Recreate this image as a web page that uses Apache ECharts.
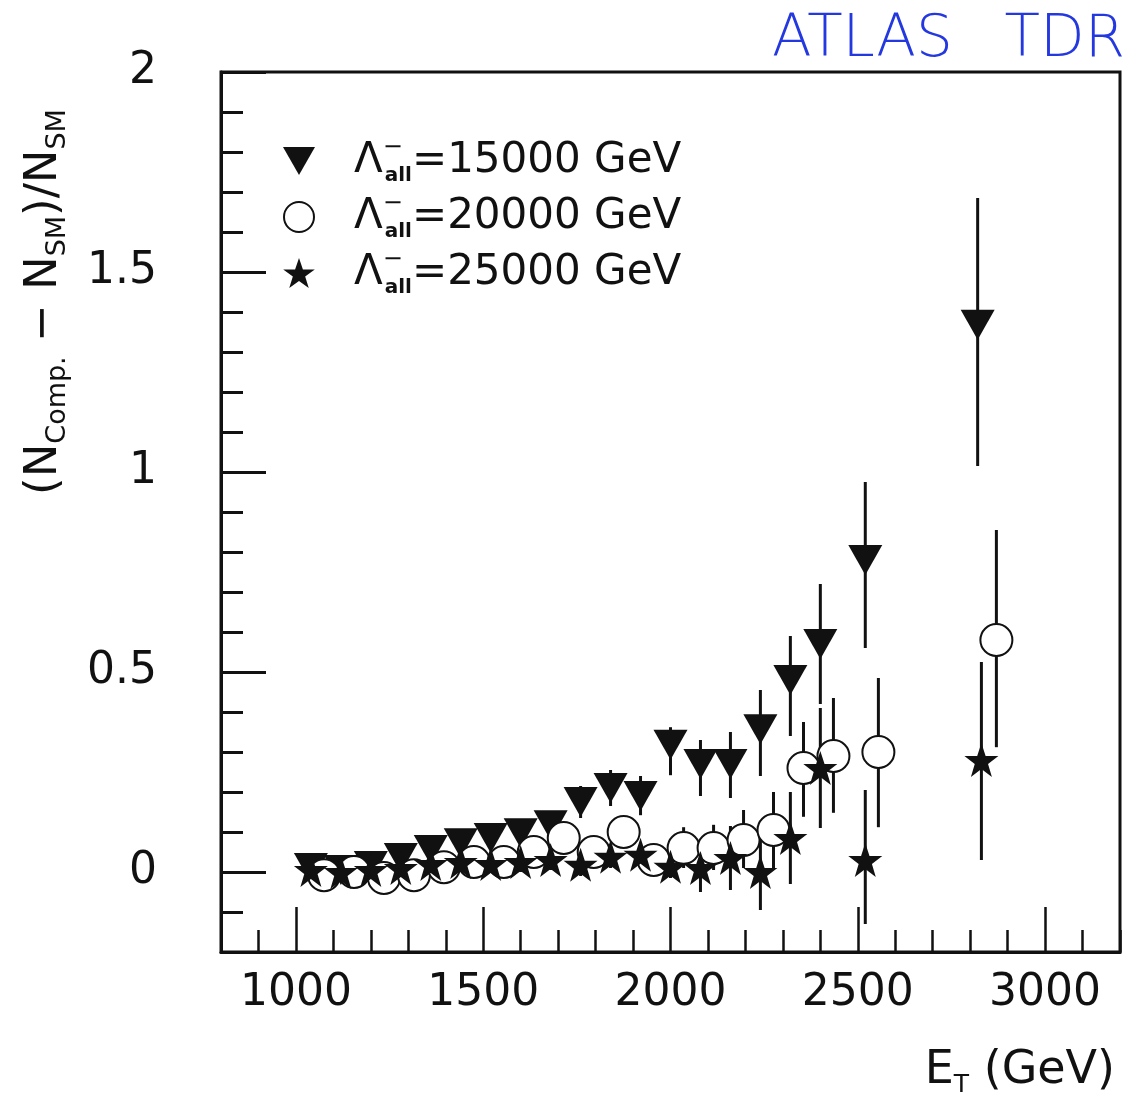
<!DOCTYPE html>
<html>
<head>
<meta charset="utf-8">
<script src="https://cdn.jsdelivr.net/npm/echarts@6/dist/echarts.min.js"></script>
<style>
html,body{margin:0;padding:0;background:#fff;}
#c{width:1129px;height:1103px;}
</style>
</head>
<body>
<div id="c"></div>
<script>
// ---- data ----
const xTickLabels = [1000, 1500, 2000, 2500, 3000];
const yTickLabels = [0, 0.5, 1, 1.5, 2];
const seriesNames = ['15000', '20000', '25000'];

const triX  = [1040,1120,1200,1280,1360,1440,1520,1600,1680,1760,1840,1920,2000,2080,2160,2240,2320,2400,2520,2820];
const triY  = [0.010,0.005,0.015,0.035,0.055,0.072,0.085,0.097,0.117,0.175,0.210,0.190,0.318,0.270,0.270,0.357,0.480,0.570,0.780,1.368];
const triLo = [0.000,-0.010,0.000,0.020,0.040,0.055,0.065,0.075,0.090,0.135,0.165,0.142,0.242,0.190,0.185,0.240,0.340,0.420,0.560,1.015];
const triHi = [0.020,0.020,0.030,0.050,0.070,0.090,0.105,0.120,0.145,0.215,0.255,0.240,0.362,0.330,0.350,0.455,0.590,0.720,0.975,1.685];

const circX  = [1075,1155,1235,1315,1395,1475,1555,1635,1715,1795,1875,1955,2035,2115,2195,2275,2355,2435,2555,2870];
const circY  = [-0.008,0.000,-0.015,-0.008,0.012,0.025,0.025,0.050,0.085,0.050,0.100,0.030,0.060,0.060,0.080,0.105,0.260,0.290,0.300,0.580];
const circLo = [-0.025,-0.015,-0.030,-0.025,-0.005,0.005,0.005,0.025,0.060,0.020,0.065,-0.010,0.010,0.005,0.010,0.010,0.138,0.148,0.112,0.312];
const circHi = [0.010,0.015,0.000,0.010,0.030,0.045,0.045,0.075,0.110,0.080,0.135,0.070,0.112,0.118,0.155,0.200,0.375,0.435,0.485,0.855];

const starX  = [1040,1120,1200,1280,1360,1440,1520,1600,1680,1760,1840,1920,2000,2080,2160,2240,2320,2400,2520,2830];
const starY  = [0.005,0.000,0.005,0.010,0.020,0.025,0.020,0.025,0.030,0.018,0.038,0.043,0.013,0.010,0.035,0.000,0.085,0.260,0.030,0.280];
const starLo = [-0.010,-0.015,-0.010,-0.005,0.000,0.005,0.000,0.000,0.005,-0.010,0.010,0.015,-0.015,-0.050,-0.045,-0.095,-0.030,0.110,-0.130,0.030];
const starHi = [0.020,0.015,0.020,0.025,0.040,0.045,0.040,0.050,0.055,0.045,0.065,0.070,0.040,0.070,0.115,0.090,0.200,0.410,0.205,0.525];

// ---- styling ----
const INK = '#111';
const FONT = 'DejaVu Sans';
const triPath = 'path://M0,0 L100,0 L50,87 Z';
const starPath = 'path://M50,0 L61.8,34.5 L97.6,34.5 L68.6,55.9 L79.4,90.5 L50,69.1 L20.6,90.5 L31.4,55.9 L2.4,34.5 L38.2,34.5 Z';
const plain = v => String(v);

function errSeries(name, xs, lo, hi) {
  return {
    type: 'custom', name: name, z: 1, silent: true, clip: true,
    data: xs.map((x, i) => [x, lo[i], hi[i]]),
    encode: { x: 0, y: [1, 2] },
    renderItem: function (params, api) {
      const a = api.coord([api.value(0), api.value(1)]);
      const b = api.coord([api.value(0), api.value(2)]);
      return { type: 'line', shape: { x1: a[0], y1: a[1], x2: b[0], y2: b[1] },
               style: { stroke: INK, lineWidth: 3 } };
    }
  };
}
function pts(xs, ys) { return xs.map((x, i) => [x, ys[i]]); }

const chart = echarts.init(document.getElementById('c'), null, { renderer: 'canvas' });
chart.setOption({
  animation: false,
  backgroundColor: '#fff',
  textStyle: { fontFamily: FONT },
  grid: { left: 221, top: 72, width: 899, height: 880, show: true, borderColor: INK, borderWidth: 3,
          containLabel: false, outerBoundsMode: 'none' },
  xAxis: [
    {
      type: 'value', min: 800, max: 3200, interval: 100,
      axisLine: { onZero: false, lineStyle: { color: INK, width: 3 } },
      axisTick: { inside: true, length: 22, lineStyle: { color: INK, width: 2.5 } },
      axisLabel: { customValues: xTickLabels, formatter: plain, fontSize: 44, color: INK, margin: 20, fontFamily: FONT },
      splitLine: { show: false },
      name: '{n|E}{s|T}{n| (GeV)}',
      nameLocation: 'end', nameGap: -5,
      nameTextStyle: {
        align: 'right', verticalAlign: 'top', padding: [92, 0, 0, 0],
        rich: {
          n: { fontSize: 46, color: INK, fontFamily: FONT, lineHeight: 54 },
          s: { fontSize: 25, color: INK, fontFamily: FONT, verticalAlign: 'bottom', lineHeight: 44 }
        }
      }
    },
    {
      type: 'value', min: 800, max: 3200, position: 'bottom',
      axisLine: { show: false, onZero: false },
      axisTick: { inside: true, length: 45, customValues: xTickLabels, lineStyle: { color: INK, width: 2.5 } },
      axisLabel: { show: false }, splitLine: { show: false }
    }
  ],
  yAxis: [
    {
      type: 'value', min: -0.2, max: 2, interval: 0.1,
      axisLine: { onZero: false, lineStyle: { color: INK, width: 3 } },
      axisTick: { inside: true, length: 22, lineStyle: { color: INK, width: 3 } },
      axisLabel: { customValues: yTickLabels, formatter: plain, fontSize: 44, color: INK, margin: 64, fontFamily: FONT },
      splitLine: { show: false },
      name: '{n|(N}{s|Comp.}{n| − N}{s|SM}{n|)/N}{s|SM}',
      nameLocation: 'middle', nameRotate: 90, nameGap: 150,
      nameTextStyle: {
        padding: [0, 0, 0, 420],
        rich: {
          n: { fontSize: 45, color: INK, fontFamily: FONT, lineHeight: 54 },
          s: { fontSize: 27, color: INK, fontFamily: FONT, verticalAlign: 'bottom', lineHeight: 40 }
        }
      }
    },
    {
      type: 'value', min: -0.2, max: 2, position: 'left',
      axisLine: { show: false, onZero: false },
      axisTick: { inside: true, length: 45, customValues: yTickLabels, lineStyle: { color: INK, width: 3 } },
      axisLabel: { show: false }, splitLine: { show: false }
    }
  ],
  legend: {
    orient: 'vertical', left: 278, top: 131,
    itemWidth: 32, itemHeight: 30, itemGap: 6,
    selectedMode: false,
    data: [
      { name: seriesNames[0], icon: triPath },
      { name: seriesNames[1], icon: 'emptyCircle', itemStyle: { borderWidth: 3 } },
      { name: seriesNames[2], icon: starPath }
    ],
    formatter: function (n) { return '{L|Λ}{sup|−}{sub|all}{t|=' + n + ' GeV}'; },
    textStyle: {
      color: INK, fontSize: 42, fontFamily: FONT, padding: [0, 0, 0, 34],
      rich: {
        L: { fontSize: 42, color: INK, fontFamily: FONT, lineHeight: 50 },
        sup: { fontSize: 24, color: INK, fontFamily: FONT, verticalAlign: 'top', width: 2, lineHeight: 30 },
        sub: { fontSize: 20, color: INK, fontFamily: FONT, fontWeight: 'bold', verticalAlign: 'bottom', lineHeight: 30 },
        t: { fontSize: 42, color: INK, fontFamily: FONT, lineHeight: 50 }
      }
    }
  },
  graphic: [
    { type: 'text', left: 772, top: 12,
      style: { text: 'ATLAS', fontSize: 58, fontFamily: FONT, fontWeight: 300, fill: '#2438e0' } },
    { type: 'text', right: 4, top: 12,
      style: { text: 'TDR', fontSize: 58, fontFamily: FONT, fontWeight: 300, fill: '#2438e0' } }
  ],
  series: [
    errSeries('e1', triX, triLo, triHi),
    errSeries('e2', circX, circLo, circHi),
    errSeries('e3', starX, starLo, starHi),
    { type: 'scatter', name: seriesNames[0], z: 3, symbol: triPath, symbolSize: [34, 30],
      itemStyle: { color: INK, opacity: 1 }, data: pts(triX, triY) },
    { type: 'scatter', name: seriesNames[1], z: 4, symbol: 'emptyCircle', symbolSize: 32,
      itemStyle: { color: INK, borderWidth: 3, opacity: 1 }, data: pts(circX, circY) },
    { type: 'scatter', name: seriesNames[2], z: 5, symbol: starPath, symbolSize: 34,
      itemStyle: { color: INK, opacity: 1 }, data: pts(starX, starY) }
  ]
});
</script>
</body>
</html>
